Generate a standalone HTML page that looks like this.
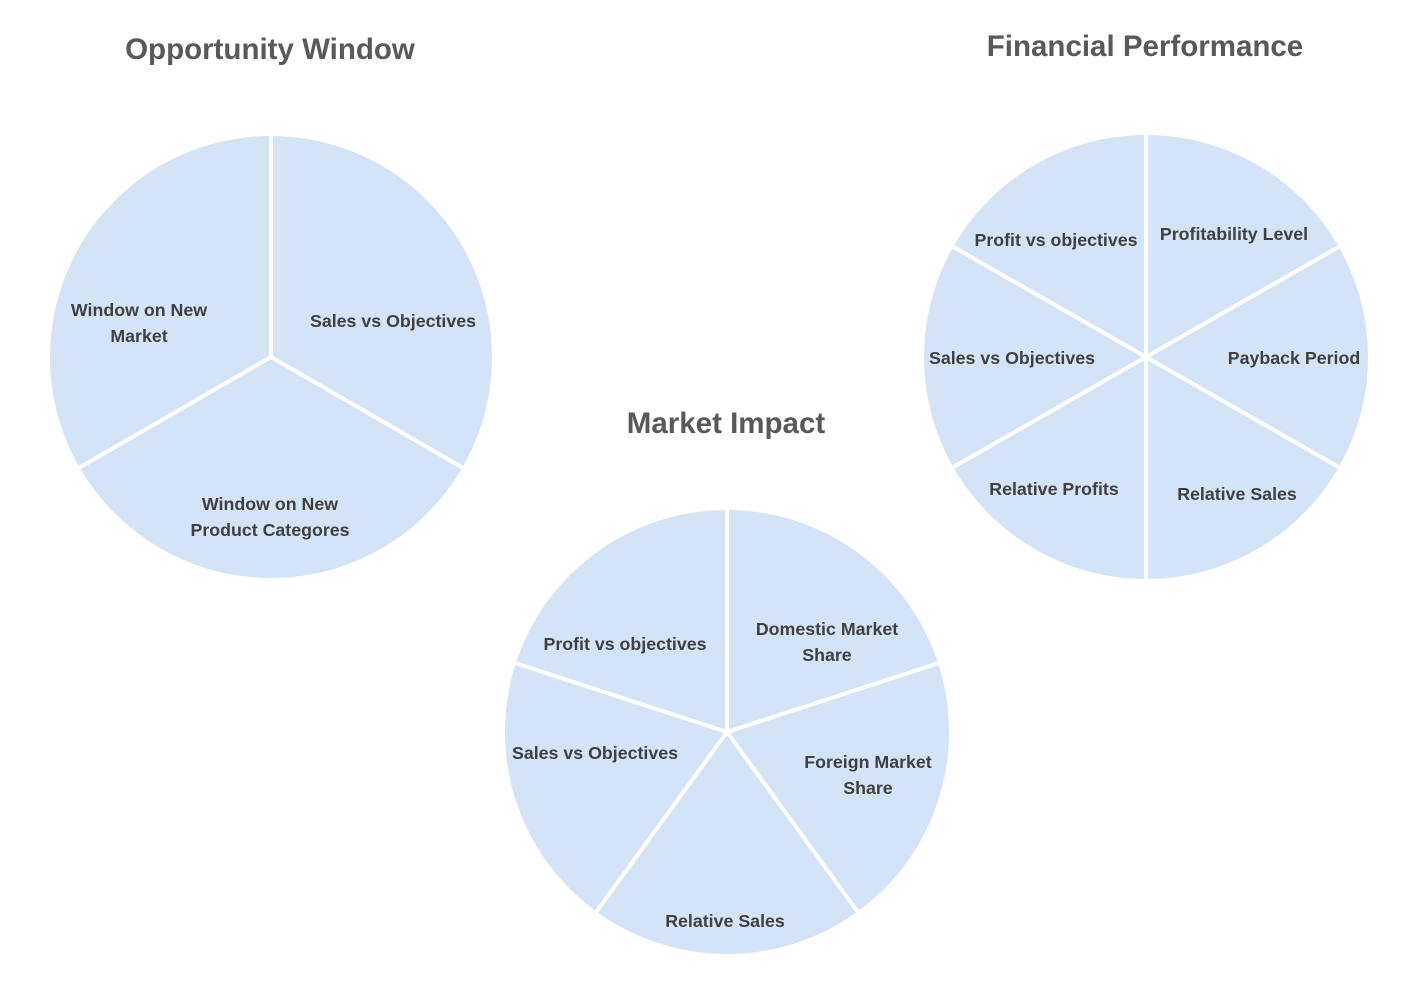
<!DOCTYPE html>
<html><head><style>
body{margin:0;background:#fff;}
svg text{font-family:"Liberation Sans",sans-serif;font-weight:bold;fill:#404040;}
.t{font-size:17.8px;text-anchor:middle;}
.h{font-size:29.5px;fill:#595959;text-anchor:middle;}
</style></head><body>
<svg width="1418" height="982" viewBox="0 0 1418 982">
<g fill="#d5e3f6" stroke="#fff" stroke-width="4">
<circle cx="271" cy="357" r="223"/>
<circle cx="1146" cy="357" r="224"/>
<circle cx="727" cy="732" r="224"/>
</g>
<g stroke="#fff" stroke-width="4">
<line x1="271" y1="357" x2="271" y2="130"/>
<line x1="271" y1="357" x2="77" y2="469"/>
<line x1="271" y1="357" x2="465" y2="469"/>
<line x1="1146" y1="130" x2="1146" y2="584"/>
<line x1="950" y1="245" x2="1342" y2="469"/>
<line x1="950" y1="469" x2="1342" y2="245"/>
<line x1="727" y1="732" x2="727" y2="505"/>
<line x1="727" y1="732" x2="942" y2="662"/>
<line x1="727" y1="732" x2="860" y2="915"/>
<line x1="727" y1="732" x2="594" y2="915"/>
<line x1="727" y1="732" x2="512" y2="662"/>
</g>
<text class="h" x="270" y="59">Opportunity Window</text>
<text class="h" x="1145" y="56">Financial Performance</text>
<text class="h" x="726" y="433">Market Impact</text>
<text class="t" x="139" y="316">Window on New</text>
<text class="t" x="139" y="342">Market</text>
<text class="t" x="393" y="327">Sales vs Objectives</text>
<text class="t" x="270" y="510">Window on New</text>
<text class="t" x="270" y="536">Product Categores</text>
<text class="t" x="1056" y="246">Profit vs objectives</text>
<text class="t" x="1234" y="240">Profitability Level</text>
<text class="t" x="1012" y="364">Sales vs Objectives</text>
<text class="t" x="1294" y="364">Payback Period</text>
<text class="t" x="1054" y="495">Relative Profits</text>
<text class="t" x="1237" y="500">Relative Sales</text>
<text class="t" x="625" y="650">Profit vs objectives</text>
<text class="t" x="827" y="635">Domestic Market</text>
<text class="t" x="827" y="661">Share</text>
<text class="t" x="595" y="759">Sales vs Objectives</text>
<text class="t" x="868" y="768">Foreign Market</text>
<text class="t" x="868" y="794">Share</text>
<text class="t" x="725" y="927">Relative Sales</text>
</svg>
</body></html>
